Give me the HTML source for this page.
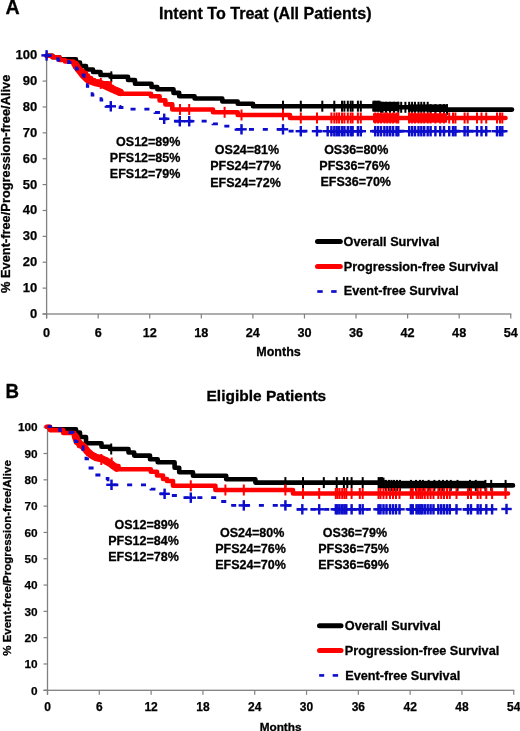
<!DOCTYPE html>
<html><head><meta charset="utf-8"><title>Survival curves</title>
<style>html,body{margin:0;padding:0;background:#fff;}body{width:520px;height:731px;overflow:hidden;font-family:"Liberation Sans",sans-serif;}svg{display:block;}</style>
</head><body>
<svg width="520" height="731" viewBox="0 0 520 731">
<rect width="520" height="731" fill="#fff"/>
<defs><filter id="bl" x="0" y="0" width="1" height="1"><feGaussianBlur stdDeviation="0.30"/></filter></defs><g filter="url(#bl)">
<g fill="#808080"><rect x="45.95" y="55.20" width="1.3" height="263.30"/><rect x="42.60" y="313.35" width="468.75" height="1.3"/><rect x="42.60" y="313.40" width="4" height="1.2"/><rect x="42.60" y="287.52" width="4" height="1.2"/><rect x="42.60" y="261.64" width="4" height="1.2"/><rect x="42.60" y="235.76" width="4" height="1.2"/><rect x="42.60" y="209.88" width="4" height="1.2"/><rect x="42.60" y="184.00" width="4" height="1.2"/><rect x="42.60" y="158.12" width="4" height="1.2"/><rect x="42.60" y="132.24" width="4" height="1.2"/><rect x="42.60" y="106.36" width="4" height="1.2"/><rect x="42.60" y="80.48" width="4" height="1.2"/><rect x="42.60" y="54.60" width="4" height="1.2"/><rect x="46.00" y="314.00" width="1.2" height="4.5"/><rect x="97.57" y="314.00" width="1.2" height="4.5"/><rect x="149.14" y="314.00" width="1.2" height="4.5"/><rect x="200.72" y="314.00" width="1.2" height="4.5"/><rect x="252.29" y="314.00" width="1.2" height="4.5"/><rect x="303.86" y="314.00" width="1.2" height="4.5"/><rect x="355.43" y="314.00" width="1.2" height="4.5"/><rect x="407.01" y="314.00" width="1.2" height="4.5"/><rect x="458.58" y="314.00" width="1.2" height="4.5"/><rect x="510.15" y="314.00" width="1.2" height="4.5"/></g><g font-family="Liberation Sans, sans-serif" font-weight="bold" font-size="13.00" text-anchor="end" fill="#000" stroke="#000" stroke-width="0.25"><text x="37.20" y="318.00">0</text><text x="37.20" y="292.12">10</text><text x="37.20" y="266.24">20</text><text x="37.20" y="240.36">30</text><text x="37.20" y="214.48">40</text><text x="37.20" y="188.60">50</text><text x="37.20" y="162.72">60</text><text x="37.20" y="136.84">70</text><text x="37.20" y="110.96">80</text><text x="37.20" y="85.08">90</text><text x="37.20" y="59.20">100</text></g><g font-family="Liberation Sans, sans-serif" font-weight="bold" font-size="12.70" text-anchor="middle" fill="#000" stroke="#000" stroke-width="0.25"><text x="46.60" y="336.90">0</text><text x="98.17" y="336.90">6</text><text x="149.74" y="336.90">12</text><text x="201.32" y="336.90">18</text><text x="252.89" y="336.90">24</text><text x="304.46" y="336.90">30</text><text x="356.03" y="336.90">36</text><text x="407.61" y="336.90">42</text><text x="459.18" y="336.90">48</text><text x="510.75" y="336.90">54</text></g>
<g fill="#808080"><rect x="46.85" y="427.20" width="1.3" height="267.60"/><rect x="43.50" y="689.65" width="470.85" height="1.3"/><rect x="43.50" y="689.70" width="4" height="1.2"/><rect x="43.50" y="663.39" width="4" height="1.2"/><rect x="43.50" y="637.08" width="4" height="1.2"/><rect x="43.50" y="610.77" width="4" height="1.2"/><rect x="43.50" y="584.46" width="4" height="1.2"/><rect x="43.50" y="558.15" width="4" height="1.2"/><rect x="43.50" y="531.84" width="4" height="1.2"/><rect x="43.50" y="505.53" width="4" height="1.2"/><rect x="43.50" y="479.22" width="4" height="1.2"/><rect x="43.50" y="452.91" width="4" height="1.2"/><rect x="43.50" y="426.60" width="4" height="1.2"/><rect x="46.90" y="690.30" width="1.2" height="4.5"/><rect x="98.71" y="690.30" width="1.2" height="4.5"/><rect x="150.51" y="690.30" width="1.2" height="4.5"/><rect x="202.32" y="690.30" width="1.2" height="4.5"/><rect x="254.12" y="690.30" width="1.2" height="4.5"/><rect x="305.93" y="690.30" width="1.2" height="4.5"/><rect x="357.73" y="690.30" width="1.2" height="4.5"/><rect x="409.54" y="690.30" width="1.2" height="4.5"/><rect x="461.34" y="690.30" width="1.2" height="4.5"/><rect x="513.15" y="690.30" width="1.2" height="4.5"/></g><g font-family="Liberation Sans, sans-serif" font-weight="bold" font-size="11.80" text-anchor="end" fill="#000" stroke="#000" stroke-width="0.25"><text x="37.60" y="694.50">0</text><text x="37.60" y="668.19">10</text><text x="37.60" y="641.88">20</text><text x="37.60" y="615.57">30</text><text x="37.60" y="589.26">40</text><text x="37.60" y="562.95">50</text><text x="37.60" y="536.64">60</text><text x="37.60" y="510.33">70</text><text x="37.60" y="484.02">80</text><text x="37.60" y="457.71">90</text><text x="37.60" y="431.40">100</text></g><g font-family="Liberation Sans, sans-serif" font-weight="bold" font-size="12.00" text-anchor="middle" fill="#000" stroke="#000" stroke-width="0.25"><text x="47.50" y="711.20">0</text><text x="99.31" y="711.20">6</text><text x="151.11" y="711.20">12</text><text x="202.92" y="711.20">18</text><text x="254.72" y="711.20">24</text><text x="306.53" y="711.20">30</text><text x="358.33" y="711.20">36</text><text x="410.14" y="711.20">42</text><text x="461.94" y="711.20">48</text><text x="513.75" y="711.20">54</text></g>
<rect x="372.5" y="101.8" width="26.8" height="9.4" fill="#000"/>
<rect x="408" y="104.4" width="39.5" height="7.2" fill="#000"/>
<rect x="378" y="477.6" width="6.5" height="10.8" fill="#000"/>
<rect x="384" y="480.8" width="101" height="7.6" fill="#000"/>
<path d="M46.60 55.80H52.50 V57.30H59.40 V59.40H76.00 V62.50H80.00 V66.00H86.00 V69.50H93.00 V72.00H100.50 V75.00H110.40 V76.80H128.00 V80.00H135.00 V83.80H151.50 V87.00H157.30 V89.20H173.50 V92.90H179.20 V96.30H194.60 V98.50H222.30 V101.50H237.70 V103.80H253.00 V106.20H380.00 V107.30H430.00 V109.60H512.00" fill="none" stroke="#000" stroke-width="4.6" stroke-linecap="round" stroke-linejoin="round"/><rect x="110.30" y="71.30" width="2.00" height="11.00" fill="#000"/><rect x="282.00" y="100.70" width="2.00" height="11.00" fill="#000"/><rect x="299.80" y="100.70" width="2.00" height="11.00" fill="#000"/><rect x="321.30" y="100.70" width="2.00" height="11.00" fill="#000"/><rect x="333.30" y="100.70" width="2.00" height="11.00" fill="#000"/><rect x="341.00" y="100.70" width="2.00" height="11.00" fill="#000"/><rect x="343.40" y="100.70" width="2.00" height="11.00" fill="#000"/><rect x="346.80" y="100.70" width="2.00" height="11.00" fill="#000"/><rect x="349.70" y="100.70" width="2.00" height="11.00" fill="#000"/><rect x="351.60" y="100.70" width="2.00" height="11.00" fill="#000"/><rect x="356.90" y="100.70" width="2.00" height="11.00" fill="#000"/><rect x="359.80" y="100.70" width="2.00" height="11.00" fill="#000"/><rect x="372.50" y="100.70" width="2.00" height="11.00" fill="#000"/><rect x="374.00" y="100.70" width="2.00" height="11.00" fill="#000"/><rect x="375.50" y="100.70" width="2.00" height="11.00" fill="#000"/><rect x="377.00" y="100.70" width="2.00" height="11.00" fill="#000"/><rect x="378.50" y="100.70" width="2.00" height="11.00" fill="#000"/><rect x="380.00" y="101.80" width="2.00" height="11.00" fill="#000"/><rect x="381.50" y="101.80" width="2.00" height="11.00" fill="#000"/><rect x="385.00" y="101.80" width="2.00" height="11.00" fill="#000"/><rect x="389.00" y="101.80" width="2.00" height="11.00" fill="#000"/><rect x="393.00" y="101.80" width="2.00" height="11.00" fill="#000"/><rect x="397.30" y="101.80" width="2.00" height="11.00" fill="#000"/><rect x="400.20" y="101.80" width="2.00" height="11.00" fill="#000"/><rect x="404.40" y="101.80" width="2.00" height="11.00" fill="#000"/><rect x="408.20" y="101.80" width="2.00" height="11.00" fill="#000"/><rect x="411.10" y="101.80" width="2.00" height="11.00" fill="#000"/><rect x="414.00" y="101.80" width="2.00" height="11.00" fill="#000"/><rect x="417.50" y="101.80" width="2.00" height="11.00" fill="#000"/><rect x="420.30" y="101.80" width="2.00" height="11.00" fill="#000"/><rect x="423.20" y="101.80" width="2.00" height="11.00" fill="#000"/><rect x="426.70" y="101.80" width="2.00" height="11.00" fill="#000"/><rect x="429.60" y="104.10" width="2.00" height="11.00" fill="#000"/><rect x="434.40" y="104.10" width="2.00" height="11.00" fill="#000"/><rect x="439.20" y="104.10" width="2.00" height="11.00" fill="#000"/><rect x="443.00" y="104.10" width="2.00" height="11.00" fill="#000"/><rect x="446.00" y="104.10" width="2.00" height="11.00" fill="#000"/><path d="M46.60 55.80H52.50 V57.30H59.40 V60.00H65.00 V61.50H73.50 V64.00H75.00 V67.00H77.00 V69.50H80.00 V71.00H83.00 V73.00H86.00 V75.50H88.00 V78.00H91.00 V80.00H94.00 V81.50H98.80 V83.40H108.50 V86.70H112.30 V89.50H116.00 V91.50H119.50 V93.80H151.00 V96.30H159.60 V100.40H165.40 V104.40H172.30 V109.50H213.00 V112.30H237.70 V115.00H290.00 V118.00H505.50" fill="none" stroke="#ff0000" stroke-width="4.6" stroke-linecap="round" stroke-linejoin="round"/><rect x="373.00" y="113.30" width="26.00" height="9.40" fill="#ff0000"/><rect x="408.00" y="113.30" width="39.00" height="9.40" fill="#ff0000"/><polyline points="75.5,64.5 77.0,67.0 79.5,70.4 83.4,75.3 87.5,79.3 91.5,81.3 95.5,82.6 101.3,83.9 107.0,86.5 112.0,88.8 117.0,91.0 120.0,92.3" fill="none" stroke="#ff0000" stroke-width="7.5" stroke-linecap="round" stroke-linejoin="round"/><rect x="99.80" y="77.90" width="2.00" height="11.00" fill="#ff0000"/><rect x="109.90" y="81.20" width="2.00" height="11.00" fill="#ff0000"/><rect x="179.00" y="104.00" width="2.00" height="11.00" fill="#ff0000"/><rect x="188.20" y="104.00" width="2.00" height="11.00" fill="#ff0000"/><rect x="223.60" y="106.80" width="2.00" height="11.00" fill="#ff0000"/><rect x="240.50" y="109.50" width="2.00" height="11.00" fill="#ff0000"/><rect x="282.00" y="109.50" width="2.00" height="11.00" fill="#ff0000"/><rect x="299.80" y="112.50" width="2.00" height="11.00" fill="#ff0000"/><rect x="316.00" y="112.50" width="2.00" height="11.00" fill="#ff0000"/><rect x="330.40" y="112.50" width="2.00" height="11.00" fill="#ff0000"/><rect x="333.30" y="112.50" width="2.00" height="11.00" fill="#ff0000"/><rect x="335.70" y="112.50" width="2.00" height="11.00" fill="#ff0000"/><rect x="338.10" y="112.50" width="2.00" height="11.00" fill="#ff0000"/><rect x="341.00" y="112.50" width="2.00" height="11.00" fill="#ff0000"/><rect x="343.40" y="112.50" width="2.00" height="11.00" fill="#ff0000"/><rect x="346.80" y="112.50" width="2.00" height="11.00" fill="#ff0000"/><rect x="349.70" y="112.50" width="2.00" height="11.00" fill="#ff0000"/><rect x="351.60" y="112.50" width="2.00" height="11.00" fill="#ff0000"/><rect x="356.90" y="112.50" width="2.00" height="11.00" fill="#ff0000"/><rect x="359.80" y="112.50" width="2.00" height="11.00" fill="#ff0000"/><rect x="374.20" y="112.50" width="2.00" height="11.00" fill="#ff0000"/><rect x="377.10" y="112.50" width="2.00" height="11.00" fill="#ff0000"/><rect x="380.00" y="112.50" width="2.00" height="11.00" fill="#ff0000"/><rect x="383.40" y="112.50" width="2.00" height="11.00" fill="#ff0000"/><rect x="386.30" y="112.50" width="2.00" height="11.00" fill="#ff0000"/><rect x="389.20" y="112.50" width="2.00" height="11.00" fill="#ff0000"/><rect x="392.10" y="112.50" width="2.00" height="11.00" fill="#ff0000"/><rect x="395.50" y="112.50" width="2.00" height="11.00" fill="#ff0000"/><rect x="397.30" y="112.50" width="2.00" height="11.00" fill="#ff0000"/><rect x="408.20" y="112.50" width="2.00" height="11.00" fill="#ff0000"/><rect x="411.10" y="112.50" width="2.00" height="11.00" fill="#ff0000"/><rect x="414.00" y="112.50" width="2.00" height="11.00" fill="#ff0000"/><rect x="417.50" y="112.50" width="2.00" height="11.00" fill="#ff0000"/><rect x="420.30" y="112.50" width="2.00" height="11.00" fill="#ff0000"/><rect x="423.20" y="112.50" width="2.00" height="11.00" fill="#ff0000"/><rect x="426.70" y="112.50" width="2.00" height="11.00" fill="#ff0000"/><rect x="429.60" y="112.50" width="2.00" height="11.00" fill="#ff0000"/><rect x="434.40" y="112.50" width="2.00" height="11.00" fill="#ff0000"/><rect x="439.20" y="112.50" width="2.00" height="11.00" fill="#ff0000"/><rect x="443.00" y="112.50" width="2.00" height="11.00" fill="#ff0000"/><rect x="448.20" y="112.50" width="2.00" height="11.00" fill="#ff0000"/><rect x="452.00" y="112.50" width="2.00" height="11.00" fill="#ff0000"/><rect x="454.40" y="112.50" width="2.00" height="11.00" fill="#ff0000"/><rect x="463.60" y="112.50" width="2.00" height="11.00" fill="#ff0000"/><rect x="466.70" y="112.50" width="2.00" height="11.00" fill="#ff0000"/><rect x="476.00" y="112.50" width="2.00" height="11.00" fill="#ff0000"/><rect x="480.50" y="112.50" width="2.00" height="11.00" fill="#ff0000"/><rect x="485.20" y="112.50" width="2.00" height="11.00" fill="#ff0000"/><rect x="496.00" y="112.50" width="2.00" height="11.00" fill="#ff0000"/><rect x="499.00" y="112.50" width="2.00" height="11.00" fill="#ff0000"/><rect x="501.30" y="112.50" width="2.00" height="11.00" fill="#ff0000"/><path d="M46.60 55.40H52.00 V57.00H57.80 V60.00H62.00 V61.50H68.60 V62.50H73.00 V66.00H76.30 V69.00H80.00 V75.00H84.00 V81.00H87.30 V86.30H92.10 V95.00H101.00 V100.00H106.00 V106.30H120.00 V107.50H130.00 V109.20H155.00 V112.50H160.00 V118.80H172.00 V121.20H213.00 V123.80H224.00 V126.20H236.00 V129.30H290.00 V131.20H506.00" fill="none" stroke="#0808cc" stroke-width="2.8" stroke-dasharray="5 8.85" stroke-dashoffset="0.75"/><rect x="105.60" y="105.10" width="10.40" height="2.40" fill="#0808cc"/><rect x="109.60" y="101.10" width="2.40" height="10.40" fill="#0808cc"/><rect x="159.00" y="117.60" width="10.40" height="2.40" fill="#0808cc"/><rect x="163.00" y="113.60" width="2.40" height="10.40" fill="#0808cc"/><rect x="174.60" y="120.00" width="10.40" height="2.40" fill="#0808cc"/><rect x="178.60" y="116.00" width="2.40" height="10.40" fill="#0808cc"/><rect x="184.00" y="120.00" width="10.40" height="2.40" fill="#0808cc"/><rect x="188.00" y="116.00" width="2.40" height="10.40" fill="#0808cc"/><rect x="236.30" y="128.10" width="10.40" height="2.40" fill="#0808cc"/><rect x="240.30" y="124.10" width="2.40" height="10.40" fill="#0808cc"/><rect x="277.80" y="128.10" width="10.40" height="2.40" fill="#0808cc"/><rect x="281.80" y="124.10" width="2.40" height="10.40" fill="#0808cc"/><rect x="295.60" y="130.00" width="10.40" height="2.40" fill="#0808cc"/><rect x="299.60" y="126.00" width="2.40" height="10.40" fill="#0808cc"/><rect x="311.80" y="130.00" width="10.40" height="2.40" fill="#0808cc"/><rect x="315.80" y="126.00" width="2.40" height="10.40" fill="#0808cc"/><rect x="322.50" y="130.00" width="10.40" height="2.40" fill="#0808cc"/><rect x="326.50" y="126.00" width="2.40" height="10.40" fill="#0808cc"/><rect x="326.20" y="130.00" width="10.40" height="2.40" fill="#0808cc"/><rect x="330.20" y="126.00" width="2.40" height="10.40" fill="#0808cc"/><rect x="329.10" y="130.00" width="10.40" height="2.40" fill="#0808cc"/><rect x="333.10" y="126.00" width="2.40" height="10.40" fill="#0808cc"/><rect x="331.50" y="130.00" width="10.40" height="2.40" fill="#0808cc"/><rect x="335.50" y="126.00" width="2.40" height="10.40" fill="#0808cc"/><rect x="333.90" y="130.00" width="10.40" height="2.40" fill="#0808cc"/><rect x="337.90" y="126.00" width="2.40" height="10.40" fill="#0808cc"/><rect x="336.80" y="130.00" width="10.40" height="2.40" fill="#0808cc"/><rect x="340.80" y="126.00" width="2.40" height="10.40" fill="#0808cc"/><rect x="339.20" y="130.00" width="10.40" height="2.40" fill="#0808cc"/><rect x="343.20" y="126.00" width="2.40" height="10.40" fill="#0808cc"/><rect x="342.60" y="130.00" width="10.40" height="2.40" fill="#0808cc"/><rect x="346.60" y="126.00" width="2.40" height="10.40" fill="#0808cc"/><rect x="345.50" y="130.00" width="10.40" height="2.40" fill="#0808cc"/><rect x="349.50" y="126.00" width="2.40" height="10.40" fill="#0808cc"/><rect x="347.40" y="130.00" width="10.40" height="2.40" fill="#0808cc"/><rect x="351.40" y="126.00" width="2.40" height="10.40" fill="#0808cc"/><rect x="352.70" y="130.00" width="10.40" height="2.40" fill="#0808cc"/><rect x="356.70" y="126.00" width="2.40" height="10.40" fill="#0808cc"/><rect x="355.60" y="130.00" width="10.40" height="2.40" fill="#0808cc"/><rect x="359.60" y="126.00" width="2.40" height="10.40" fill="#0808cc"/><rect x="370.00" y="130.00" width="10.40" height="2.40" fill="#0808cc"/><rect x="374.00" y="126.00" width="2.40" height="10.40" fill="#0808cc"/><rect x="372.90" y="130.00" width="10.40" height="2.40" fill="#0808cc"/><rect x="376.90" y="126.00" width="2.40" height="10.40" fill="#0808cc"/><rect x="375.80" y="130.00" width="10.40" height="2.40" fill="#0808cc"/><rect x="379.80" y="126.00" width="2.40" height="10.40" fill="#0808cc"/><rect x="379.20" y="130.00" width="10.40" height="2.40" fill="#0808cc"/><rect x="383.20" y="126.00" width="2.40" height="10.40" fill="#0808cc"/><rect x="382.10" y="130.00" width="10.40" height="2.40" fill="#0808cc"/><rect x="386.10" y="126.00" width="2.40" height="10.40" fill="#0808cc"/><rect x="385.00" y="130.00" width="10.40" height="2.40" fill="#0808cc"/><rect x="389.00" y="126.00" width="2.40" height="10.40" fill="#0808cc"/><rect x="387.90" y="130.00" width="10.40" height="2.40" fill="#0808cc"/><rect x="391.90" y="126.00" width="2.40" height="10.40" fill="#0808cc"/><rect x="391.30" y="130.00" width="10.40" height="2.40" fill="#0808cc"/><rect x="395.30" y="126.00" width="2.40" height="10.40" fill="#0808cc"/><rect x="393.10" y="130.00" width="10.40" height="2.40" fill="#0808cc"/><rect x="397.10" y="126.00" width="2.40" height="10.40" fill="#0808cc"/><rect x="404.00" y="130.00" width="10.40" height="2.40" fill="#0808cc"/><rect x="408.00" y="126.00" width="2.40" height="10.40" fill="#0808cc"/><rect x="406.90" y="130.00" width="10.40" height="2.40" fill="#0808cc"/><rect x="410.90" y="126.00" width="2.40" height="10.40" fill="#0808cc"/><rect x="409.80" y="130.00" width="10.40" height="2.40" fill="#0808cc"/><rect x="413.80" y="126.00" width="2.40" height="10.40" fill="#0808cc"/><rect x="413.30" y="130.00" width="10.40" height="2.40" fill="#0808cc"/><rect x="417.30" y="126.00" width="2.40" height="10.40" fill="#0808cc"/><rect x="416.10" y="130.00" width="10.40" height="2.40" fill="#0808cc"/><rect x="420.10" y="126.00" width="2.40" height="10.40" fill="#0808cc"/><rect x="419.00" y="130.00" width="10.40" height="2.40" fill="#0808cc"/><rect x="423.00" y="126.00" width="2.40" height="10.40" fill="#0808cc"/><rect x="422.50" y="130.00" width="10.40" height="2.40" fill="#0808cc"/><rect x="426.50" y="126.00" width="2.40" height="10.40" fill="#0808cc"/><rect x="425.40" y="130.00" width="10.40" height="2.40" fill="#0808cc"/><rect x="429.40" y="126.00" width="2.40" height="10.40" fill="#0808cc"/><rect x="430.20" y="130.00" width="10.40" height="2.40" fill="#0808cc"/><rect x="434.20" y="126.00" width="2.40" height="10.40" fill="#0808cc"/><rect x="435.00" y="130.00" width="10.40" height="2.40" fill="#0808cc"/><rect x="439.00" y="126.00" width="2.40" height="10.40" fill="#0808cc"/><rect x="438.80" y="130.00" width="10.40" height="2.40" fill="#0808cc"/><rect x="442.80" y="126.00" width="2.40" height="10.40" fill="#0808cc"/><rect x="444.00" y="130.00" width="10.40" height="2.40" fill="#0808cc"/><rect x="448.00" y="126.00" width="2.40" height="10.40" fill="#0808cc"/><rect x="447.80" y="130.00" width="10.40" height="2.40" fill="#0808cc"/><rect x="451.80" y="126.00" width="2.40" height="10.40" fill="#0808cc"/><rect x="450.20" y="130.00" width="10.40" height="2.40" fill="#0808cc"/><rect x="454.20" y="126.00" width="2.40" height="10.40" fill="#0808cc"/><rect x="459.40" y="130.00" width="10.40" height="2.40" fill="#0808cc"/><rect x="463.40" y="126.00" width="2.40" height="10.40" fill="#0808cc"/><rect x="462.50" y="130.00" width="10.40" height="2.40" fill="#0808cc"/><rect x="466.50" y="126.00" width="2.40" height="10.40" fill="#0808cc"/><rect x="471.80" y="130.00" width="10.40" height="2.40" fill="#0808cc"/><rect x="475.80" y="126.00" width="2.40" height="10.40" fill="#0808cc"/><rect x="476.30" y="130.00" width="10.40" height="2.40" fill="#0808cc"/><rect x="480.30" y="126.00" width="2.40" height="10.40" fill="#0808cc"/><rect x="481.00" y="130.00" width="10.40" height="2.40" fill="#0808cc"/><rect x="485.00" y="126.00" width="2.40" height="10.40" fill="#0808cc"/><rect x="491.80" y="130.00" width="10.40" height="2.40" fill="#0808cc"/><rect x="495.80" y="126.00" width="2.40" height="10.40" fill="#0808cc"/><rect x="494.80" y="130.00" width="10.40" height="2.40" fill="#0808cc"/><rect x="498.80" y="126.00" width="2.40" height="10.40" fill="#0808cc"/><rect x="497.10" y="130.00" width="10.40" height="2.40" fill="#0808cc"/><rect x="501.10" y="126.00" width="2.40" height="10.40" fill="#0808cc"/><rect x="41.40" y="54.20" width="10.40" height="2.40" fill="#0808cc"/><rect x="45.40" y="50.20" width="2.40" height="10.40" fill="#0808cc"/>
<path d="M47.50 427.00H50.00 V429.30H76.00 V432.50H80.00 V437.00H86.00 V443.20H101.50 V446.80H110.00 V449.00H128.50 V452.50H134.20 V455.60H150.00 V459.20H157.70 V462.30H174.60 V467.70H179.20 V472.30H193.00 V475.80H226.20 V479.20H255.40 V482.60H385.80 V485.40H513.00" fill="none" stroke="#000" stroke-width="4.6" stroke-linecap="round" stroke-linejoin="round"/><rect x="110.20" y="443.50" width="2.00" height="11.00" fill="#000"/><rect x="284.40" y="477.10" width="2.00" height="11.00" fill="#000"/><rect x="302.00" y="477.10" width="2.00" height="11.00" fill="#000"/><rect x="322.80" y="477.10" width="2.00" height="11.00" fill="#000"/><rect x="335.70" y="477.10" width="2.00" height="11.00" fill="#000"/><rect x="342.90" y="477.10" width="2.00" height="11.00" fill="#000"/><rect x="346.30" y="477.10" width="2.00" height="11.00" fill="#000"/><rect x="350.60" y="477.10" width="2.00" height="11.00" fill="#000"/><rect x="361.70" y="477.10" width="2.00" height="11.00" fill="#000"/><rect x="377.60" y="477.10" width="2.00" height="11.00" fill="#000"/><rect x="379.50" y="477.10" width="2.00" height="11.00" fill="#000"/><rect x="381.00" y="477.10" width="2.00" height="11.00" fill="#000"/><rect x="384.80" y="479.90" width="2.00" height="11.00" fill="#000"/><rect x="388.00" y="479.90" width="2.00" height="11.00" fill="#000"/><rect x="390.50" y="479.90" width="2.00" height="11.00" fill="#000"/><rect x="393.00" y="479.90" width="2.00" height="11.00" fill="#000"/><rect x="396.00" y="479.90" width="2.00" height="11.00" fill="#000"/><rect x="399.00" y="479.90" width="2.00" height="11.00" fill="#000"/><rect x="410.00" y="479.90" width="2.00" height="11.00" fill="#000"/><rect x="415.00" y="479.90" width="2.00" height="11.00" fill="#000"/><rect x="419.00" y="479.90" width="2.00" height="11.00" fill="#000"/><rect x="421.90" y="479.90" width="2.00" height="11.00" fill="#000"/><rect x="427.70" y="479.90" width="2.00" height="11.00" fill="#000"/><rect x="433.40" y="479.90" width="2.00" height="11.00" fill="#000"/><rect x="438.20" y="479.90" width="2.00" height="11.00" fill="#000"/><rect x="442.00" y="479.90" width="2.00" height="11.00" fill="#000"/><rect x="445.90" y="479.90" width="2.00" height="11.00" fill="#000"/><rect x="449.80" y="479.90" width="2.00" height="11.00" fill="#000"/><rect x="456.50" y="479.90" width="2.00" height="11.00" fill="#000"/><rect x="469.00" y="479.90" width="2.00" height="11.00" fill="#000"/><rect x="474.80" y="479.90" width="2.00" height="11.00" fill="#000"/><rect x="484.40" y="479.90" width="2.00" height="11.00" fill="#000"/><rect x="490.20" y="479.90" width="2.00" height="11.00" fill="#000"/><rect x="504.60" y="479.90" width="2.00" height="11.00" fill="#000"/><path d="M46.50 426.70H50.00 V430.10H63.20 V433.00H74.50 V437.50H76.00 V442.50H79.00 V446.00H83.00 V448.50H86.00 V451.50H88.00 V454.00H91.00 V455.50H95.00 V458.00H100.00 V459.50H106.50 V463.00H112.00 V466.00H118.50 V469.20H150.80 V471.80H157.00 V475.50H163.00 V479.00H167.00 V481.00H173.00 V485.80H215.40 V490.00H293.00 V493.50H508.00" fill="none" stroke="#ff0000" stroke-width="4.6" stroke-linecap="round" stroke-linejoin="round"/><polyline points="75.5,436.5 77.0,440.5 80.0,444.0 84.0,447.0 87.5,451.5 91.5,455.0 95.5,457.3 101.3,458.6 107.0,461.3 111.0,464.0 116.5,468.0" fill="none" stroke="#ff0000" stroke-width="7.5" stroke-linecap="round" stroke-linejoin="round"/><rect x="100.30" y="454.00" width="2.00" height="11.00" fill="#ff0000"/><rect x="110.70" y="457.50" width="2.00" height="11.00" fill="#ff0000"/><rect x="189.80" y="480.30" width="2.00" height="11.00" fill="#ff0000"/><rect x="224.40" y="484.50" width="2.00" height="11.00" fill="#ff0000"/><rect x="242.80" y="484.50" width="2.00" height="11.00" fill="#ff0000"/><rect x="284.40" y="484.50" width="2.00" height="11.00" fill="#ff0000"/><rect x="302.00" y="488.00" width="2.00" height="11.00" fill="#ff0000"/><rect x="318.20" y="488.00" width="2.00" height="11.00" fill="#ff0000"/><rect x="334.80" y="488.00" width="2.00" height="11.00" fill="#ff0000"/><rect x="336.50" y="488.00" width="2.00" height="11.00" fill="#ff0000"/><rect x="338.60" y="488.00" width="2.00" height="11.00" fill="#ff0000"/><rect x="341.20" y="488.00" width="2.00" height="11.00" fill="#ff0000"/><rect x="343.40" y="488.00" width="2.00" height="11.00" fill="#ff0000"/><rect x="345.30" y="488.00" width="2.00" height="11.00" fill="#ff0000"/><rect x="350.60" y="488.00" width="2.00" height="11.00" fill="#ff0000"/><rect x="358.80" y="488.00" width="2.00" height="11.00" fill="#ff0000"/><rect x="361.70" y="488.00" width="2.00" height="11.00" fill="#ff0000"/><rect x="377.50" y="488.00" width="2.00" height="11.00" fill="#ff0000"/><rect x="379.50" y="488.00" width="2.00" height="11.00" fill="#ff0000"/><rect x="382.50" y="488.00" width="2.00" height="11.00" fill="#ff0000"/><rect x="385.50" y="488.00" width="2.00" height="11.00" fill="#ff0000"/><rect x="389.00" y="488.00" width="2.00" height="11.00" fill="#ff0000"/><rect x="392.00" y="488.00" width="2.00" height="11.00" fill="#ff0000"/><rect x="395.00" y="488.00" width="2.00" height="11.00" fill="#ff0000"/><rect x="398.50" y="488.00" width="2.00" height="11.00" fill="#ff0000"/><rect x="409.80" y="488.00" width="2.00" height="11.00" fill="#ff0000"/><rect x="411.80" y="488.00" width="2.00" height="11.00" fill="#ff0000"/><rect x="415.50" y="488.00" width="2.00" height="11.00" fill="#ff0000"/><rect x="417.50" y="488.00" width="2.00" height="11.00" fill="#ff0000"/><rect x="419.50" y="488.00" width="2.00" height="11.00" fill="#ff0000"/><rect x="421.30" y="488.00" width="2.00" height="11.00" fill="#ff0000"/><rect x="423.80" y="488.00" width="2.00" height="11.00" fill="#ff0000"/><rect x="426.70" y="488.00" width="2.00" height="11.00" fill="#ff0000"/><rect x="429.60" y="488.00" width="2.00" height="11.00" fill="#ff0000"/><rect x="432.50" y="488.00" width="2.00" height="11.00" fill="#ff0000"/><rect x="437.30" y="488.00" width="2.00" height="11.00" fill="#ff0000"/><rect x="440.20" y="488.00" width="2.00" height="11.00" fill="#ff0000"/><rect x="443.00" y="488.00" width="2.00" height="11.00" fill="#ff0000"/><rect x="446.00" y="488.00" width="2.00" height="11.00" fill="#ff0000"/><rect x="448.80" y="488.00" width="2.00" height="11.00" fill="#ff0000"/><rect x="455.50" y="488.00" width="2.00" height="11.00" fill="#ff0000"/><rect x="467.00" y="488.00" width="2.00" height="11.00" fill="#ff0000"/><rect x="470.00" y="488.00" width="2.00" height="11.00" fill="#ff0000"/><rect x="476.70" y="488.00" width="2.00" height="11.00" fill="#ff0000"/><rect x="479.60" y="488.00" width="2.00" height="11.00" fill="#ff0000"/><rect x="485.30" y="488.00" width="2.00" height="11.00" fill="#ff0000"/><rect x="491.10" y="488.00" width="2.00" height="11.00" fill="#ff0000"/><rect x="504.50" y="488.00" width="2.00" height="11.00" fill="#ff0000"/><path d="M47.50 426.70H55.00 V429.00H60.00 V430.60H66.00 V432.50H73.00 V436.00H75.50 V441.60H79.00 V447.00H83.00 V452.00H86.00 V458.80H90.00 V468.00H95.00 V475.00H103.00 V478.50H108.00 V484.80H148.00 V486.00H151.00 V489.20H158.00 V493.80H170.00 V495.50H180.00 V497.70H218.00 V501.50H228.00 V505.40H294.00 V509.30H493.00" fill="none" stroke="#0808cc" stroke-width="2.8" stroke-dasharray="5 8.85" stroke-dashoffset="0.75"/><rect x="106.30" y="483.60" width="10.40" height="2.40" fill="#0808cc"/><rect x="110.30" y="479.60" width="2.40" height="10.40" fill="#0808cc"/><rect x="159.40" y="492.60" width="10.40" height="2.40" fill="#0808cc"/><rect x="163.40" y="488.60" width="2.40" height="10.40" fill="#0808cc"/><rect x="185.60" y="496.50" width="10.40" height="2.40" fill="#0808cc"/><rect x="189.60" y="492.50" width="2.40" height="10.40" fill="#0808cc"/><rect x="238.60" y="504.20" width="10.40" height="2.40" fill="#0808cc"/><rect x="242.60" y="500.20" width="2.40" height="10.40" fill="#0808cc"/><rect x="280.20" y="504.20" width="10.40" height="2.40" fill="#0808cc"/><rect x="284.20" y="500.20" width="2.40" height="10.40" fill="#0808cc"/><rect x="297.10" y="508.10" width="10.40" height="2.40" fill="#0808cc"/><rect x="301.10" y="504.10" width="2.40" height="10.40" fill="#0808cc"/><rect x="314.00" y="508.10" width="10.40" height="2.40" fill="#0808cc"/><rect x="318.00" y="504.10" width="2.40" height="10.40" fill="#0808cc"/><rect x="330.60" y="508.10" width="10.40" height="2.40" fill="#0808cc"/><rect x="334.60" y="504.10" width="2.40" height="10.40" fill="#0808cc"/><rect x="332.30" y="508.10" width="10.40" height="2.40" fill="#0808cc"/><rect x="336.30" y="504.10" width="2.40" height="10.40" fill="#0808cc"/><rect x="334.40" y="508.10" width="10.40" height="2.40" fill="#0808cc"/><rect x="338.40" y="504.10" width="2.40" height="10.40" fill="#0808cc"/><rect x="337.00" y="508.10" width="10.40" height="2.40" fill="#0808cc"/><rect x="341.00" y="504.10" width="2.40" height="10.40" fill="#0808cc"/><rect x="339.20" y="508.10" width="10.40" height="2.40" fill="#0808cc"/><rect x="343.20" y="504.10" width="2.40" height="10.40" fill="#0808cc"/><rect x="341.10" y="508.10" width="10.40" height="2.40" fill="#0808cc"/><rect x="345.10" y="504.10" width="2.40" height="10.40" fill="#0808cc"/><rect x="346.40" y="508.10" width="10.40" height="2.40" fill="#0808cc"/><rect x="350.40" y="504.10" width="2.40" height="10.40" fill="#0808cc"/><rect x="354.60" y="508.10" width="10.40" height="2.40" fill="#0808cc"/><rect x="358.60" y="504.10" width="2.40" height="10.40" fill="#0808cc"/><rect x="357.50" y="508.10" width="10.40" height="2.40" fill="#0808cc"/><rect x="361.50" y="504.10" width="2.40" height="10.40" fill="#0808cc"/><rect x="373.30" y="508.10" width="10.40" height="2.40" fill="#0808cc"/><rect x="377.30" y="504.10" width="2.40" height="10.40" fill="#0808cc"/><rect x="375.30" y="508.10" width="10.40" height="2.40" fill="#0808cc"/><rect x="379.30" y="504.10" width="2.40" height="10.40" fill="#0808cc"/><rect x="378.30" y="508.10" width="10.40" height="2.40" fill="#0808cc"/><rect x="382.30" y="504.10" width="2.40" height="10.40" fill="#0808cc"/><rect x="381.30" y="508.10" width="10.40" height="2.40" fill="#0808cc"/><rect x="385.30" y="504.10" width="2.40" height="10.40" fill="#0808cc"/><rect x="384.80" y="508.10" width="10.40" height="2.40" fill="#0808cc"/><rect x="388.80" y="504.10" width="2.40" height="10.40" fill="#0808cc"/><rect x="387.80" y="508.10" width="10.40" height="2.40" fill="#0808cc"/><rect x="391.80" y="504.10" width="2.40" height="10.40" fill="#0808cc"/><rect x="390.80" y="508.10" width="10.40" height="2.40" fill="#0808cc"/><rect x="394.80" y="504.10" width="2.40" height="10.40" fill="#0808cc"/><rect x="394.30" y="508.10" width="10.40" height="2.40" fill="#0808cc"/><rect x="398.30" y="504.10" width="2.40" height="10.40" fill="#0808cc"/><rect x="405.60" y="508.10" width="10.40" height="2.40" fill="#0808cc"/><rect x="409.60" y="504.10" width="2.40" height="10.40" fill="#0808cc"/><rect x="407.60" y="508.10" width="10.40" height="2.40" fill="#0808cc"/><rect x="411.60" y="504.10" width="2.40" height="10.40" fill="#0808cc"/><rect x="411.30" y="508.10" width="10.40" height="2.40" fill="#0808cc"/><rect x="415.30" y="504.10" width="2.40" height="10.40" fill="#0808cc"/><rect x="413.30" y="508.10" width="10.40" height="2.40" fill="#0808cc"/><rect x="417.30" y="504.10" width="2.40" height="10.40" fill="#0808cc"/><rect x="415.30" y="508.10" width="10.40" height="2.40" fill="#0808cc"/><rect x="419.30" y="504.10" width="2.40" height="10.40" fill="#0808cc"/><rect x="417.10" y="508.10" width="10.40" height="2.40" fill="#0808cc"/><rect x="421.10" y="504.10" width="2.40" height="10.40" fill="#0808cc"/><rect x="419.60" y="508.10" width="10.40" height="2.40" fill="#0808cc"/><rect x="423.60" y="504.10" width="2.40" height="10.40" fill="#0808cc"/><rect x="422.50" y="508.10" width="10.40" height="2.40" fill="#0808cc"/><rect x="426.50" y="504.10" width="2.40" height="10.40" fill="#0808cc"/><rect x="425.40" y="508.10" width="10.40" height="2.40" fill="#0808cc"/><rect x="429.40" y="504.10" width="2.40" height="10.40" fill="#0808cc"/><rect x="428.30" y="508.10" width="10.40" height="2.40" fill="#0808cc"/><rect x="432.30" y="504.10" width="2.40" height="10.40" fill="#0808cc"/><rect x="433.10" y="508.10" width="10.40" height="2.40" fill="#0808cc"/><rect x="437.10" y="504.10" width="2.40" height="10.40" fill="#0808cc"/><rect x="436.00" y="508.10" width="10.40" height="2.40" fill="#0808cc"/><rect x="440.00" y="504.10" width="2.40" height="10.40" fill="#0808cc"/><rect x="438.80" y="508.10" width="10.40" height="2.40" fill="#0808cc"/><rect x="442.80" y="504.10" width="2.40" height="10.40" fill="#0808cc"/><rect x="441.80" y="508.10" width="10.40" height="2.40" fill="#0808cc"/><rect x="445.80" y="504.10" width="2.40" height="10.40" fill="#0808cc"/><rect x="444.60" y="508.10" width="10.40" height="2.40" fill="#0808cc"/><rect x="448.60" y="504.10" width="2.40" height="10.40" fill="#0808cc"/><rect x="451.30" y="508.10" width="10.40" height="2.40" fill="#0808cc"/><rect x="455.30" y="504.10" width="2.40" height="10.40" fill="#0808cc"/><rect x="462.80" y="508.10" width="10.40" height="2.40" fill="#0808cc"/><rect x="466.80" y="504.10" width="2.40" height="10.40" fill="#0808cc"/><rect x="465.80" y="508.10" width="10.40" height="2.40" fill="#0808cc"/><rect x="469.80" y="504.10" width="2.40" height="10.40" fill="#0808cc"/><rect x="472.50" y="508.10" width="10.40" height="2.40" fill="#0808cc"/><rect x="476.50" y="504.10" width="2.40" height="10.40" fill="#0808cc"/><rect x="475.40" y="508.10" width="10.40" height="2.40" fill="#0808cc"/><rect x="479.40" y="504.10" width="2.40" height="10.40" fill="#0808cc"/><rect x="481.10" y="508.10" width="10.40" height="2.40" fill="#0808cc"/><rect x="485.10" y="504.10" width="2.40" height="10.40" fill="#0808cc"/><rect x="486.90" y="508.10" width="10.40" height="2.40" fill="#0808cc"/><rect x="490.90" y="504.10" width="2.40" height="10.40" fill="#0808cc"/><rect x="501.30" y="507.80" width="10.40" height="2.40" fill="#0808cc"/><rect x="505.30" y="503.80" width="2.40" height="10.40" fill="#0808cc"/>
<g font-family="Liberation Sans, sans-serif" font-weight="bold" fill="#000" stroke="#000" stroke-width="0.3">
<text x="5.6" y="13.6" font-size="19.6">A</text>
<text transform="translate(5.6,397.6) scale(1,1.075)" font-size="18.7">B</text>
<text x="159" y="19.1" font-size="16.1">Intent To Treat (All Patients)</text>
<text x="206.50" y="401.40" font-size="15.50" text-anchor="start">Eligible Patients</text>
<text x="278.50" y="355.50" font-size="12.50" text-anchor="middle">Months</text>
<text x="280.60" y="730.60" font-size="11.80" text-anchor="middle">Months</text>
<text transform="translate(10.4,183.85) rotate(-90)" font-size="12.85" text-anchor="middle">% Event-free/Progression-free/Alive</text>
<text transform="translate(11.2,558) rotate(-90)" font-size="11.5" text-anchor="middle">% Event-free/Progression-free/Alive</text>
<text x="180.40" y="145.80" font-size="12.50" text-anchor="end">OS12=89%</text>
<text x="180.40" y="162.10" font-size="12.50" text-anchor="end">PFS12=85%</text>
<text x="180.40" y="178.30" font-size="12.50" text-anchor="end">EFS12=79%</text>
<text x="247.00" y="153.70" font-size="12.50" text-anchor="middle">OS24=81%</text>
<text x="245.50" y="170.20" font-size="12.50" text-anchor="middle">PFS24=77%</text>
<text x="245.50" y="186.60" font-size="12.50" text-anchor="middle">EFS24=72%</text>
<text x="356.30" y="153.70" font-size="12.50" text-anchor="middle">OS36=80%</text>
<text x="354.60" y="170.20" font-size="12.50" text-anchor="middle">PFS36=76%</text>
<text x="355.70" y="186.30" font-size="12.50" text-anchor="middle">EFS36=70%</text>
<text x="178.80" y="529.00" font-size="12.50" text-anchor="end">OS12=89%</text>
<text x="178.80" y="545.00" font-size="12.50" text-anchor="end">PFS12=84%</text>
<text x="178.80" y="560.80" font-size="12.50" text-anchor="end">EFS12=78%</text>
<text x="252.20" y="536.90" font-size="12.50" text-anchor="middle">OS24=80%</text>
<text x="250.50" y="553.10" font-size="12.50" text-anchor="middle">PFS24=76%</text>
<text x="250.50" y="569.40" font-size="12.50" text-anchor="middle">EFS24=70%</text>
<text x="355.00" y="537.30" font-size="12.50" text-anchor="middle">OS36=79%</text>
<text x="353.50" y="553.10" font-size="12.50" text-anchor="middle">PFS36=75%</text>
<text x="353.50" y="569.40" font-size="12.50" text-anchor="middle">EFS36=69%</text>
<text x="343.60" y="246.20" font-size="12.70" text-anchor="start">Overall Survival</text>
<text x="343.80" y="270.80" font-size="12.70" text-anchor="start">Progression-free Survival</text>
<text x="343.80" y="295.40" font-size="12.70" text-anchor="start">Event-free Survival</text>
<text x="344.80" y="630.00" font-size="12.70" text-anchor="start">Overall Survival</text>
<text x="344.80" y="654.60" font-size="12.70" text-anchor="start">Progression-free Survival</text>
<text x="345.30" y="679.70" font-size="12.70" text-anchor="start">Event-free Survival</text>
</g>
<line x1="317.50" y1="241.50" x2="340.30" y2="241.50" stroke="#000" stroke-width="5.00" stroke-linecap="round"/>
<line x1="317.50" y1="266.50" x2="340.30" y2="266.50" stroke="#ff0000" stroke-width="5.00" stroke-linecap="round"/>
<rect x="317.3" y="290.2" width="5.4" height="2.6" fill="#0808cc"/><rect x="331.2" y="290.2" width="5.4" height="2.6" fill="#0808cc"/>
<line x1="319.50" y1="625.80" x2="341.00" y2="625.80" stroke="#000" stroke-width="5.00" stroke-linecap="round"/>
<line x1="319.50" y1="650.50" x2="341.00" y2="650.50" stroke="#ff0000" stroke-width="5.00" stroke-linecap="round"/>
<rect x="319.2" y="674.1" width="5" height="2.6" fill="#0808cc"/><rect x="332.7" y="674.1" width="5.4" height="2.6" fill="#0808cc"/>
</g>
</svg>
</body></html>
